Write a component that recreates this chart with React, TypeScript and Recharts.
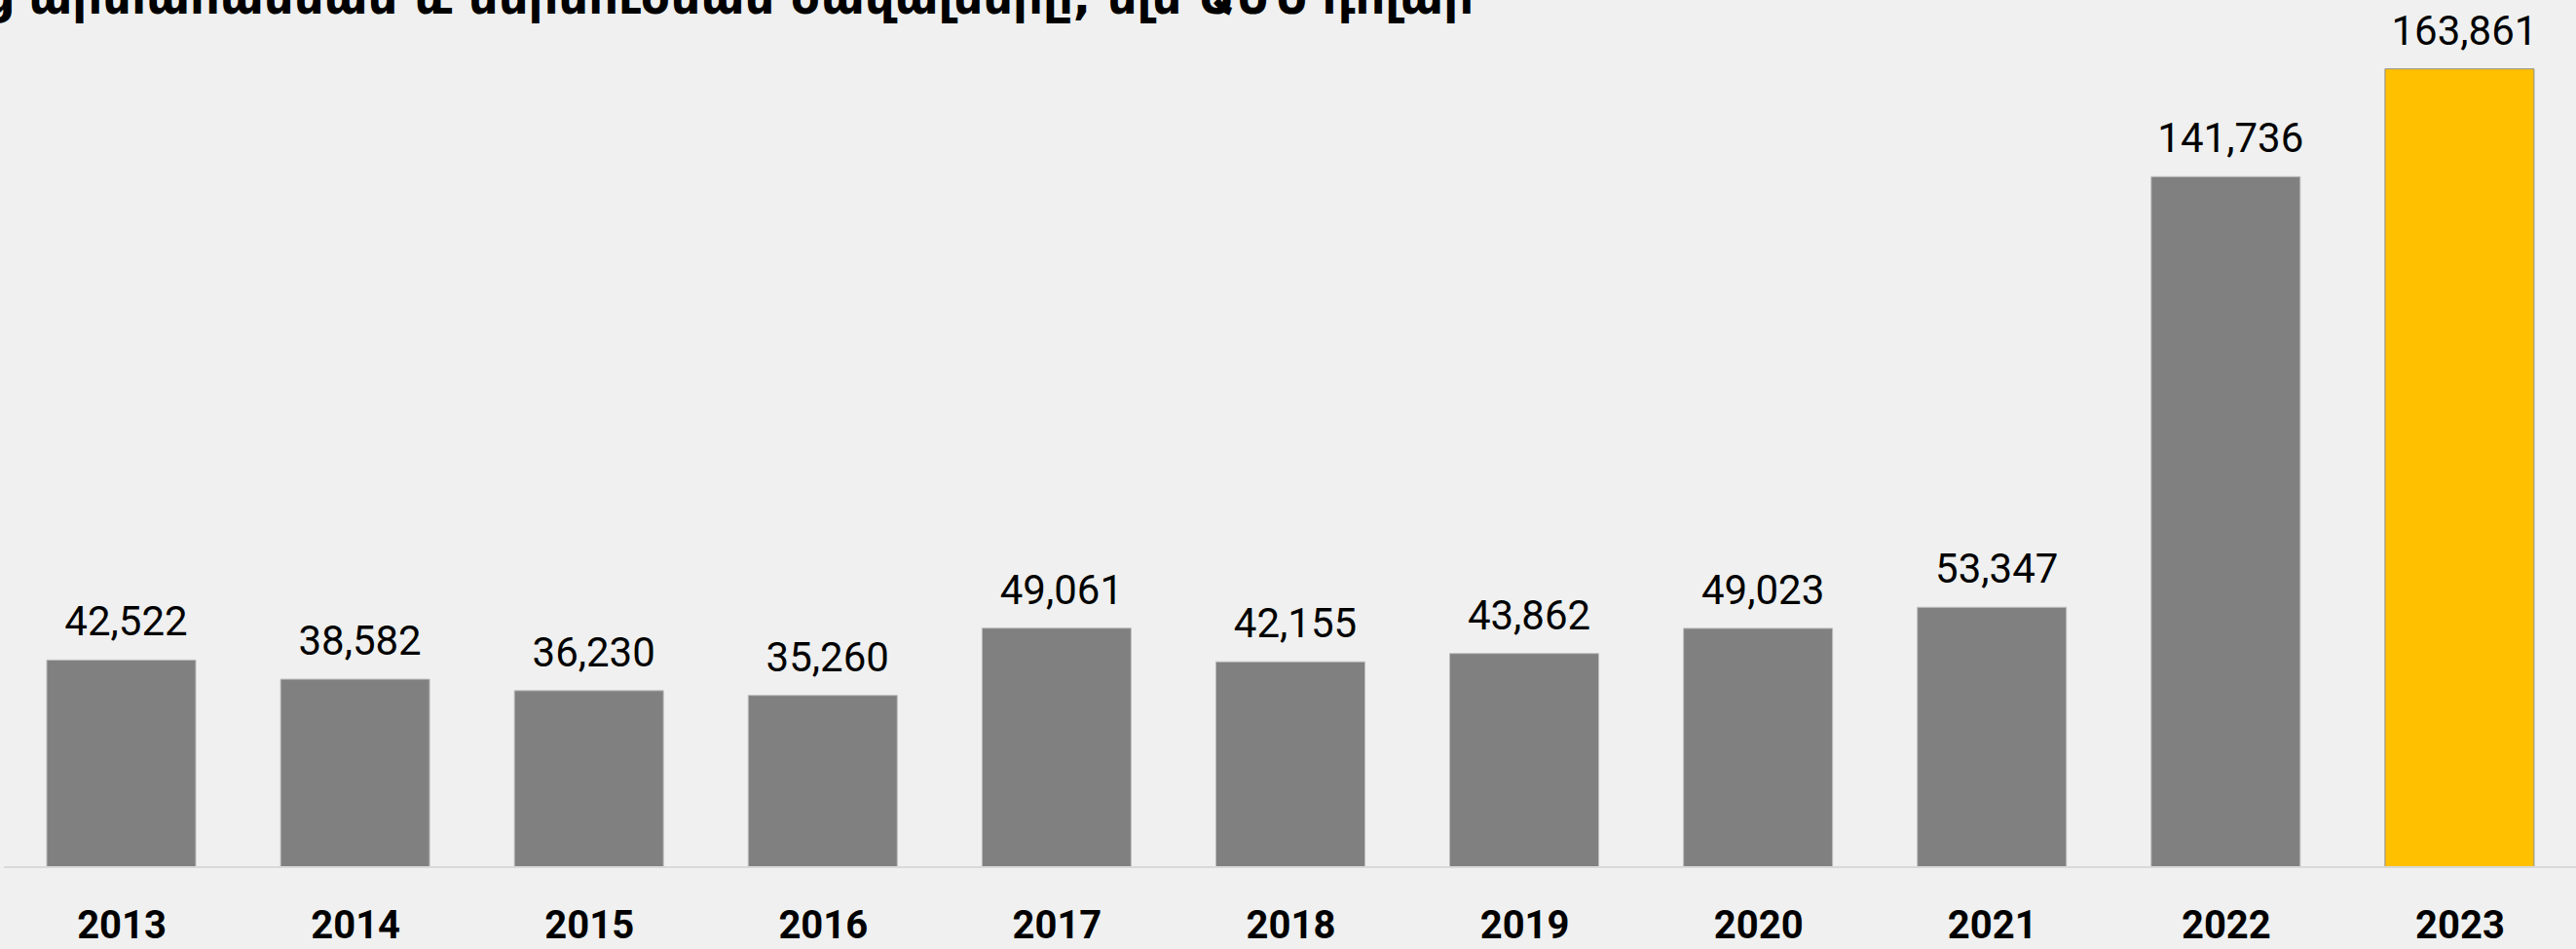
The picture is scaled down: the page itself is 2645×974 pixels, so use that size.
import { BarChart, Bar, XAxis, YAxis, Cell, LabelList } from 'recharts'

const years = ['2013', '2014', '2015', '2016', '2017', '2018', '2019', '2020', '2021', '2022', '2023']
const values = [42522, 38582, 36230, 35260, 49061, 42155, 43862, 49023, 53347, 141736, 163861]
const highlightYear = '2023'

const title = 'Հայաստանից արտահանման և ներմուծման ծավալները, մլն ԱՄՆ դոլար'

const data = years.map((year, i) => ({ year, value: values[i] }))

const W = 2645
const H = 974

function YearTick({ x, y, payload }: any) {
  return (
    <text x={x + 1} y={y + 73} textAnchor="middle" fontFamily="Roboto" fontWeight={700} fontSize={40} fill="#000">
      {payload.value}
    </text>
  )
}

function ValueLabel({ x, y, width, value }: any) {
  return (
    <text x={x + width / 2 + 5} y={y - 25} textAnchor="middle" fontFamily="Roboto" fontSize={42} fill="#000">
      {Number(value).toLocaleString('en-US')}
    </text>
  )
}

export default function App() {
  return (
    <div style={{ position: 'absolute', left: 0, top: 0, width: W, height: H, background: '#eff0ef', overflow: 'hidden' }}>
      <BarChart width={W} height={H} data={data} margin={{ top: 0, right: 0, left: 4, bottom: 0 }} barSize={153}>
        <text x={1513} y={14} textAnchor="end" fontFamily="DejaVu Sans" fontWeight={700} fontSize={48} fill="#000">
          {title}
        </text>
        <XAxis
          dataKey="year"
          height={84}
          tickLine={false}
          tickSize={0}
          tickMargin={0}
          axisLine={{ stroke: '#d9d9d9', strokeWidth: 2 }}
          tick={<YearTick />}
          interval={0}
        />
        <YAxis hide domain={[0, 178000]} />
        <Bar dataKey="value" isAnimationActive={false}>
          {data.map((d) => (
            <Cell
              key={d.year}
              fill={d.year === highlightYear ? '#ffc000' : '#808080'}
              stroke={d.year === highlightYear ? '#909090' : '#bdbdbd'}
              strokeWidth={1}
            />
          ))}
          <LabelList dataKey="value" content={<ValueLabel />} />
        </Bar>
      </BarChart>
    </div>
  )
}
